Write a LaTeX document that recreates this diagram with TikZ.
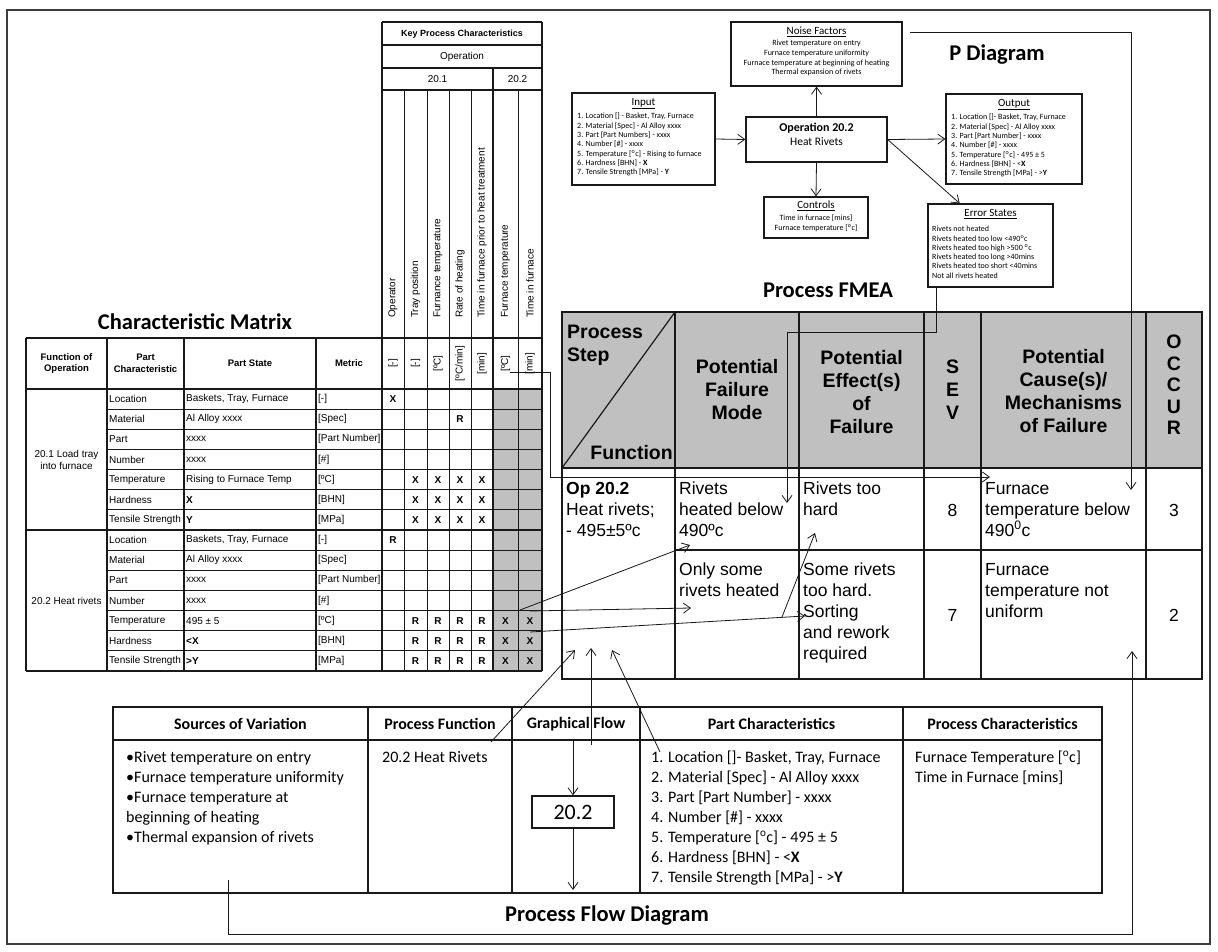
\documentclass[tikz,border=0pt]{standalone}
\usepackage{fontspec}
\setmainfont{Liberation Sans}
\newfontfamily\calfont{Carlito}
\usetikzlibrary{arrows.meta,calc}
\definecolor{ink}{RGB}{25,25,25}
\definecolor{cellgray}{RGB}{192,192,192}

% one row of the characteristic matrix: index, part characteristic, part state, metric
\newcommand\cmrow[4]{%
  \pgfmathsetmacro\rowy{389+(#1-0.5)*20.14}%
  \node[mtx] (pc#1) at (109,\rowy) {#2};
  \node[mtx] (ps#1) at (186,\rowy) {#3};
  \node[mtx] (mt#1) at (318,\rowy) {#4};
}
% an X or R entry in the key process characteristic columns
\newcommand\kpcentry[3]{%
  \pgfmathsetmacro\rowy{389+(#1-0.5)*20.14}%
  \pgfmathsetmacro\colx{{393,415.5,438,460,482,505.5,530}[#2-1]}%
  \node[kmark] (k#1-#2) at (\colx,\rowy) {#3};
}

\begin{document}
\begin{tikzpicture}[x=1pt,y=-1pt,
  thinline/.style={line width=0.7pt,draw=ink},
  midline/.style={line width=1.2pt,draw=ink},
  boldline/.style={line width=1.7pt,draw=ink},
  heavyline/.style={line width=2.3pt,draw=ink},
  conn/.style={draw=ink,line width=0.8pt,-{Straight Barb[length=7pt,width=10pt]}},
  pbox/.style={draw=ink,line width=1.2pt,fill=white,inner sep=0pt},
  ptitle/.style={font=\calfont\fontsize{11}{12}\selectfont,inner sep=0pt,anchor=north},
  plist/.style={font=\calfont\fontsize{8}{9.3}\selectfont,align=left,inner sep=0pt,anchor=north west},
  pcentre/.style={font=\calfont\fontsize{8}{9.7}\selectfont,align=center,inner sep=0pt,anchor=north},
  heading/.style={font=\calfont\bfseries\fontsize{22.5}{25}\selectfont,inner sep=0pt},
  mtx/.style={font=\fontsize{10}{12}\selectfont,inner sep=0pt,anchor=west},
  mtxhead/.style={font=\bfseries\fontsize{9.5}{11.5}\selectfont,align=center,inner sep=0pt},
  kmark/.style={font=\bfseries\fontsize{10}{12}\selectfont,inner sep=0pt},
  klabel/.style={font=\fontsize{10}{12}\selectfont,inner sep=0pt,rotate=90,anchor=west},
  kunit/.style={font=\fontsize{10}{12}\selectfont,inner sep=0pt,rotate=90},
  fhead/.style={font=\bfseries\fontsize{19.5}{23}\selectfont,align=center,inner sep=0pt},
  fbody/.style={font=\fontsize{17.5}{21}\selectfont,align=left,inner sep=0pt,anchor=north west},
  fnum/.style={font=\fontsize{17.5}{21}\selectfont,inner sep=0pt},
  bhead/.style={font=\calfont\bfseries\fontsize{16}{19}\selectfont,inner sep=0pt},
  bbody/.style={font=\calfont\fontsize{16}{20}\selectfont,align=left,inner sep=0pt,anchor=north west},
]
\useasboundingbox (0,0) rectangle (1218,952);
\fill[white] (0,0) rectangle (1218,952);

% outer frame
\draw[line width=1.5pt,draw=ink!85] (7,10) rectangle (1210,944);

% ---------------- P diagram ----------------
\node[pbox,minimum width=171,minimum height=64] (noise) at (816.5,54) {};
\node[ptitle] (noiseT) at (816.5,27) {\underline{Noise Factors}};
\node[pcentre] (noiseL) at (816.5,40) {Rivet temperature on entry\\Furnace temperature uniformity\\Furnace temperature at beginning of heating\\Thermal expansion of rivets};

\node[pbox,minimum width=143,minimum height=92] (input) at (643.5,139) {};
\node[ptitle] (inputT) at (643.5,98) {\underline{Input}};
\node[plist] (inputL) at (577,113) {1. Location [] - Basket, Tray, Furnace\\2. Material [Spec] - Al Alloy xxxx\\3. Part [Part Numbers] - xxxx\\4. Number [\#] - xxxx\\5. Temperature [\textsuperscript{o}c] - Rising to furnace\\6. Hardness [BHN] - \textbf{X}\\7. Tensile Strength [MPa] - \textbf{Y}};

\node[pbox,minimum width=141,minimum height=45] (op) at (816.5,139.5) {};
\node[font=\calfont\fontsize{11.5}{14}\selectfont,align=center,inner sep=0pt] (opT) at (816.5,134) {\textbf{\fontsize{12}{14}\selectfont Operation 20.2}\\Heat Rivets};

\node[pbox,minimum width=104,minimum height=41] (controls) at (816,217.5) {};
\node[ptitle] (controlsT) at (816,201) {\underline{Controls}};
\node[pcentre] (controlsL) at (816,215) {Time in furnace [mins]\\Furnace temperature [\textsuperscript{o}c]};

\node[pbox,minimum width=136,minimum height=90] (output) at (1014,139) {};
\node[ptitle] (outputT) at (1014,99) {\underline{Output}};
\node[plist] (outputL) at (951,114) {1. Location []- Basket, Tray, Furnace\\2. Material [Spec] - Al Alloy xxxx\\3. Part [Part Number] - xxxx\\4. Number [\#] - xxxx\\5. Temperature [\textsuperscript{o}c] - 495 ± 5\\6. Hardness [BHN] - <\textbf{X}\\7. Tensile Strength [MPa] - >\textbf{Y}};

\node[pbox,minimum width=125,minimum height=83] (errors) at (990.5,245.5) {};
\node[ptitle] (errorsT) at (990.5,209) {\underline{Error States}};
\node[plist] (errorsL) at (932,226) {Rivets not heated\\Rivets heated too low <490\textsuperscript{o}c\\Rivets heated too high >500 \textsuperscript{o}c\\Rivets heated too long >40mins\\Rivets heated too short <40mins\\Not all rivets heated};

\draw[conn] (input.east) -- (op.west);
\draw[conn] (op.north) -- (noise.south);
\draw[conn] (op.south) -- (controls.north);
\draw[conn] (op.east) -- (output.west);
\draw[conn] (op.east) -- ($(errors.north west)!0.256!(errors.north east)$);

% section headings
\node[heading] (pdiagT) at (997,55) {P Diagram};
\node[heading] (fmeaT) at (828,290) {Process FMEA};
\node[heading] (cmT) at (195,322) {Characteristic Matrix};
\node[heading] (pfdT) at (607,916) {Process Flow Diagram};

% ---------------- characteristic matrix ----------------
\fill[cellgray] (493,389) rectangle (542,671);
\draw[boldline] (382,22) -- (542,22);
\draw[midline] (382,45) -- (542,45);
\draw[midline] (382,68) -- (542,68);
\draw[midline] (382,90) -- (542,90);
\draw[midline] (382,338) -- (542,338);
\foreach \x in {404,427,449,471,518} \draw[thinline] (\x,90) -- (\x,671);
\draw[midline] (493,68) -- (493,671);
\draw[boldline] (382,22) -- (382,671);
\draw[boldline] (542,22) -- (542,671);
\foreach \i in {1,...,6,8,9,...,13} {
  \pgfmathsetmacro\ly{389+\i*20.14}
  \draw[thinline] (107,\ly) -- (542,\ly);
}
\draw[boldline] (26,338) -- (382,338);
\foreach \y in {389,530,671} \draw[boldline] (26,\y) -- (542,\y);
\foreach \x in {26,107,184,316} \draw[boldline] (\x,338) -- (\x,671);

\node[font=\bfseries\fontsize{9}{11}\selectfont,inner sep=0pt] (kpcT) at (462,34) {Key Process Characteristics};
\node[font=\fontsize{10}{12}\selectfont,inner sep=0pt] (kopT) at (462,57) {Operation};
\node[font=\fontsize{10}{12}\selectfont,inner sep=0pt] (k201) at (437.5,79) {20.1};
\node[font=\fontsize{10}{12}\selectfont,inner sep=0pt] (k202) at (517.5,79) {20.2};

\foreach \x/\t [count=\n] in {393/Operator,415.5/Tray position,438/Furnance temperature,460/Rate of heating,482/Time in furnace prior to heat treatment,505.5/Furnace temperature,530/Time in furnace}
  \node[klabel] (kl\n) at (\x,318) {\t};
\foreach \x/\t [count=\n] in {393/{[-]},415.5/{[-]},438/{[ºC]},460/{[ºC/min]},482/{[min]},505.5/{[ºC]},530/{[min]}}
  \node[kunit] (ku\n) at (\x,363.5) {\t};

\node[mtxhead] (hfo) at (66.5,363.5) {Function of\\Operation};
\node[mtxhead] (hpc) at (145.5,363.5) {Part\\Characteristic};
\node[mtxhead] (hps) at (250,363.5) {Part State};
\node[mtxhead] (hmt) at (349,363.5) {Metric};

\node[mtx,anchor=center,align=center] (f201) at (66.5,459.5) {20.1 Load tray\\into furnace};
\node[mtx,anchor=center] (f202) at (66.5,600.5) {20.2 Heat rivets};

\cmrow{1}{Location}{Baskets, Tray, Furnace}{[-]}
\cmrow{2}{Material}{Al Alloy xxxx}{[Spec]}
\cmrow{3}{Part}{xxxx}{[Part Number]}
\cmrow{4}{Number}{xxxx}{[\#]}
\cmrow{5}{Temperature}{Rising to Furnace Temp}{[ºC]}
\cmrow{6}{Hardness}{\textbf{X}}{[BHN]}
\cmrow{7}{Tensile Strength}{\textbf{Y}}{[MPa]}
\cmrow{8}{Location}{Baskets, Tray, Furnace}{[-]}
\cmrow{9}{Material}{Al Alloy xxxx}{[Spec]}
\cmrow{10}{Part}{xxxx}{[Part Number]}
\cmrow{11}{Number}{xxxx}{[\#]}
\cmrow{12}{Temperature}{495 ± 5}{[ºC]}
\cmrow{13}{Hardness}{\textbf{<X}}{[BHN]}
\cmrow{14}{Tensile Strength}{\textbf{>Y}}{[MPa]}

\kpcentry{1}{1}{X}
\kpcentry{2}{4}{R}
\foreach \r in {5,6,7} \foreach \c in {2,...,5} {\kpcentry{\r}{\c}{X}}
\kpcentry{8}{1}{R}
\foreach \r in {12,13,14} {
  \foreach \c in {2,...,5} {\kpcentry{\r}{\c}{R}}
  \foreach \c in {6,7} {\kpcentry{\r}{\c}{X}}
}

% ---------------- process FMEA ----------------
\fill[cellgray] (562,312) rectangle (1202,468);
\draw[midline] (562,468) -- (675,312);
\draw[heavyline] (562,312) rectangle (1202,679);
\foreach \x in {675,799,924,981,1146} \draw[heavyline] (\x,312) -- (\x,679);
\draw[heavyline] (562,468) -- (1202,468);
\draw[heavyline] (675,550) -- (1202,550);

\node[fhead,align=left,anchor=north west] (hstep) at (567,325) {Process\\Step};
\node[fhead,anchor=south east] (hfunc) at (673,460) {Function};
\node[fhead] (hmode) at (737,390) {Potential\\Failure\\Mode};
\node[fhead] (heff) at (861.5,392) {Potential\\Effect(s)\\of\\Failure};
\node[fhead] (hsev) at (952.5,390) {S\\E\\V};
\node[fhead] (hcause) at (1063.5,391) {Potential\\Cause(s)/\\Mechanisms\\of Failure};
\node[fhead,font=\bfseries\fontsize{19.5}{21.5}\selectfont] (hocc) at (1174,385) {O\\C\\C\\U\\R};

\node[fbody] (b11) at (566,482) {\textbf{Op 20.2}\\Heat rivets;\\- 495±5ºc};
\node[fbody] (b12) at (679,482) {Rivets\\heated below\\490ºc};
\node[fbody] (b13) at (803,482) {Rivets too\\hard};
\node[fnum] (b14) at (952.5,510) {8};
\node[fbody] (b15) at (985,482) {Furnace\\temperature below\\490\textsuperscript{0}c};
\node[fnum] (b16) at (1174,510) {3};
\node[fbody] (b22) at (679,563) {Only some\\rivets heated};
\node[fbody] (b23) at (803,563) {Some rivets\\too hard.\\Sorting\\and rework\\required};
\node[fnum] (b24) at (952.5,615) {7};
\node[fbody] (b25) at (985,563) {Furnace\\temperature not\\uniform};
\node[fnum] (b26) at (1174,615) {2};

% ---------------- process flow table ----------------
\draw[boldline] (113,707) rectangle (1102,893);
\draw[boldline] (113,740) -- (1102,740);
\foreach \x in {368,512,640,903} \draw[boldline] (\x,707) -- (\x,893);

\node[bhead] (sovT) at (240.5,724) {Sources of Variation};
\node[bhead] (pfnT) at (440,724) {Process Function};
\node[bhead] (gflT) at (576,724) {Graphical Flow};
\node[bhead] (pchT) at (771.5,724) {Part Characteristics};
\node[bhead] (prcT) at (1002.5,724) {Process Characteristics};

\node[bbody] (sovL) at (126,751) {•Rivet temperature on entry\\•Furnace temperature uniformity\\•Furnace temperature at\\beginning of heating\\•Thermal expansion of rivets};
\node[bbody] (pfnL) at (382,751) {20.2 Heat Rivets};
\node[bbody] (pchL) at (651,751) {1. Location []- Basket, Tray, Furnace\\2. Material [Spec] - Al Alloy xxxx\\3. Part [Part Number] - xxxx\\4. Number [\#] - xxxx\\5. Temperature [\textsuperscript{o}c] - 495 ± 5\\6. Hardness [BHN] - <\textbf{X}\\7. Tensile Strength [MPa] - >\textbf{Y}};
\node[bbody] (prcL) at (915,751) {Furnace Temperature [\textsuperscript{o}c]\\Time in Furnace [mins]};

\node[draw=ink,line width=1.2pt,minimum width=82,minimum height=32,inner sep=0pt,font=\calfont\fontsize{22}{24}\selectfont] (gf) at (573,812) {20.2};
\coordinate (gfIn) at (573,740);
\coordinate (gfOut) at (573,890);
\draw[conn] (gfIn) -- (gf.north);
\draw[conn] (gf.south) -- (gfOut);

% ---------------- links between the views ----------------
\coordinate (kTa) at (520,610);
\coordinate (kTb) at (530,611);
\coordinate (kHc) at (530,632);
\coordinate (modeA) at (690,545);
\coordinate (modeB) at (691,608);
\coordinate (effB) at (805,616);
\coordinate (effFoot) at (782,617);
\coordinate (effA) at (815,533);
\draw[conn] (kTa) -- (modeA);
\draw[conn] (kTb) -- (modeB);
\draw[conn] (kHc) -- (effB);
\draw[conn] (effFoot) -- (effA);

\coordinate (causeIn) at (990,477);
\draw[conn] (ku6.south west) -| (550,477) -- (causeIn);

\coordinate (modeTop) at (787,503);
\draw[conn] ($(errors.south west)+(9,0)$) |- (787,332) -- (modeTop);

\coordinate (pStart) at (910,32);
\coordinate (causeTop) at (1131,490);
\draw[conn] (pStart) -| (causeTop);

\coordinate (pfnFoot) at (491,742);
\coordinate (opA) at (575,650);
\draw[conn] (pfnFoot) -- (opA);
\coordinate (gfFoot) at (591,745);
\coordinate (opB) at (591,648);
\draw[conn] (gfFoot) -- (opB);
\coordinate (pchFoot) at (660,752);
\coordinate (opC) at (612,650);
\draw[conn] (pchFoot) -- (opC);

\coordinate (brA) at (228,880);
\coordinate (brB) at (228,934);
\coordinate (brC) at (1132,934);
\coordinate (causeLow) at (1132,651);
\draw[conn] (brA) -- (brB) -- (brC) -- (causeLow);
\end{tikzpicture}
\end{document}
